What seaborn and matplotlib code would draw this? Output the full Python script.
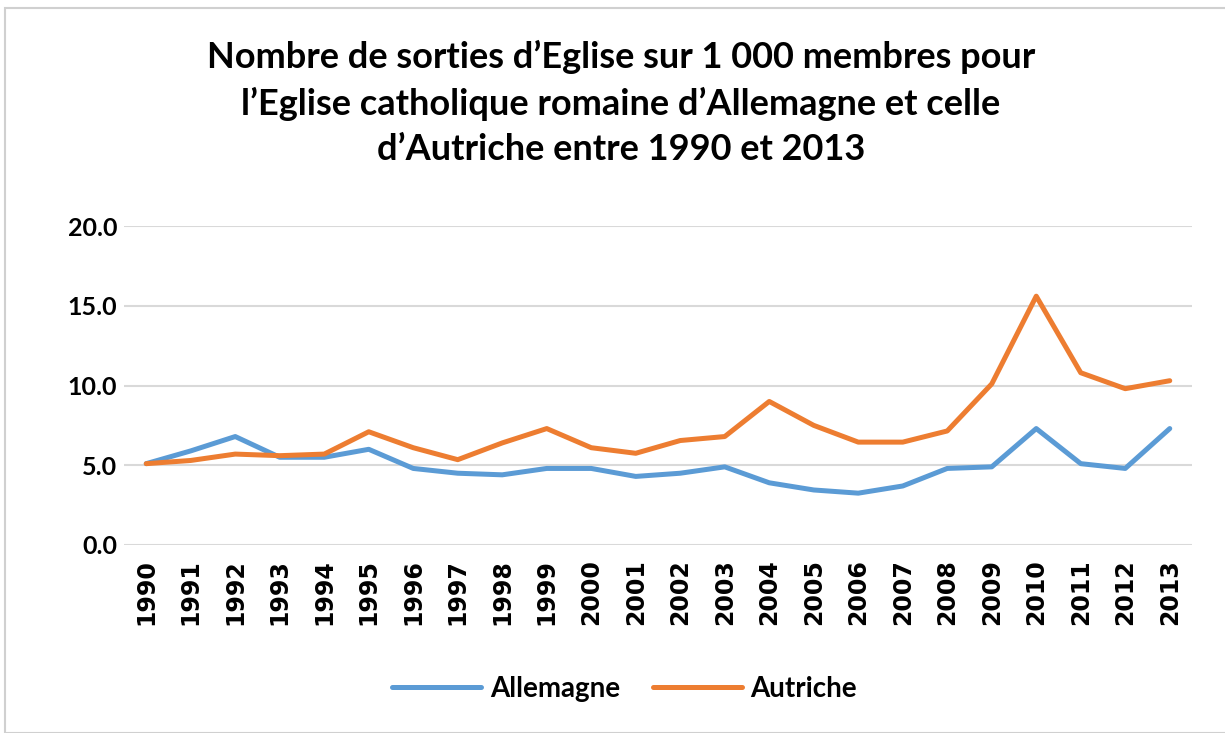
import pandas as pd
import matplotlib.pyplot as plt
import seaborn as sns
from matplotlib.patches import Rectangle

# data
years = [str(y) for y in range(1990, 2014)]
allemagne = [5.1, 5.9, 6.8, 5.5, 5.5, 6.0, 4.8, 4.5, 4.4, 4.8, 4.8, 4.3,
             4.5, 4.9, 3.9, 3.45, 3.25, 3.7, 4.8, 4.9, 7.3, 5.1, 4.8, 7.3]
autriche = [5.1, 5.3, 5.7, 5.6, 5.7, 7.1, 6.1, 5.35, 6.4, 7.3, 6.1, 5.75,
            6.55, 6.8, 9.0, 7.5, 6.45, 6.45, 7.15, 10.1, 15.6, 10.8, 9.8, 10.3]
series_names = ["Allemagne", "Autriche"]
colors = ["#5B9BD5", "#ED7D31"]

title = ("Nombre de sorties d\u2019Eglise sur 1 000 membres pour\n"
         "l\u2019Eglise catholique romaine d\u2019Allemagne et celle\n"
         "d\u2019Autriche entre 1990 et 2013")

df = pd.DataFrame({"Année": years * 2,
                   "Valeur": allemagne + autriche,
                   "Pays": [series_names[0]] * len(years) + [series_names[1]] * len(years)})

sns.set_style("white")
plt.rcParams["font.family"] = ["Lato", "DejaVu Sans"]
plt.rcParams["text.color"] = "black"

fig = plt.figure(figsize=(12.25, 7.33), dpi=100)
ax = fig.add_axes([124 / 1225, 1 - 545 / 733, (1192 - 124) / 1225, (545 - 226) / 733])

sns.lineplot(data=df, x="Année", y="Valeur", hue="Pays", palette=colors,
             linewidth=3.6, sort=False, ax=ax, legend=False)

ax.set_xlim(-0.5, len(years) - 0.5)
ax.set_ylim(0, 20)
ax.set_yticks([0, 5, 10, 15, 20])
ax.set_yticklabels([f"{v:.1f}" for v in [0, 5, 10, 15, 20]],
                   fontsize=18, fontweight="bold", color="black")
ax.set_xticks(range(len(years)))
ax.set_xticklabels(years, rotation=90, fontsize=17, fontweight="bold",
                   family="DejaVu Sans", color="black")
ax.tick_params(axis="both", length=0, pad=10)
ax.tick_params(axis="y", pad=5)
ax.grid(axis="y", color="#D9D9D9", linewidth=1.5)
ax.set_axisbelow(True)
for s in ax.spines.values():
    s.set_visible(False)
ax.set_xlabel("")
ax.set_ylabel("")

fig.text(0.507, 0.945, title, ha="center", va="top", fontsize=26,
         fontweight="bold", linespacing=1.45, color="black")

# legend
handles = [plt.Line2D([], [], color=c, linewidth=3.6) for c in colors]
fig.legend(handles, series_names, loc="center", bbox_to_anchor=(0.51, 0.06),
           ncol=2, frameon=False, handlelength=3.2,
           columnspacing=1.2, handletextpad=0.3,
           prop={"weight": "bold", "size": 20})

# chart border
fig.patches.append(Rectangle((5 / 1225, 0), 1.2, 1 - 8 / 733, transform=fig.transFigure,
                             fill=False, edgecolor="#D0D0D0", linewidth=1.5))

fig.savefig("out.png", dpi=100)
